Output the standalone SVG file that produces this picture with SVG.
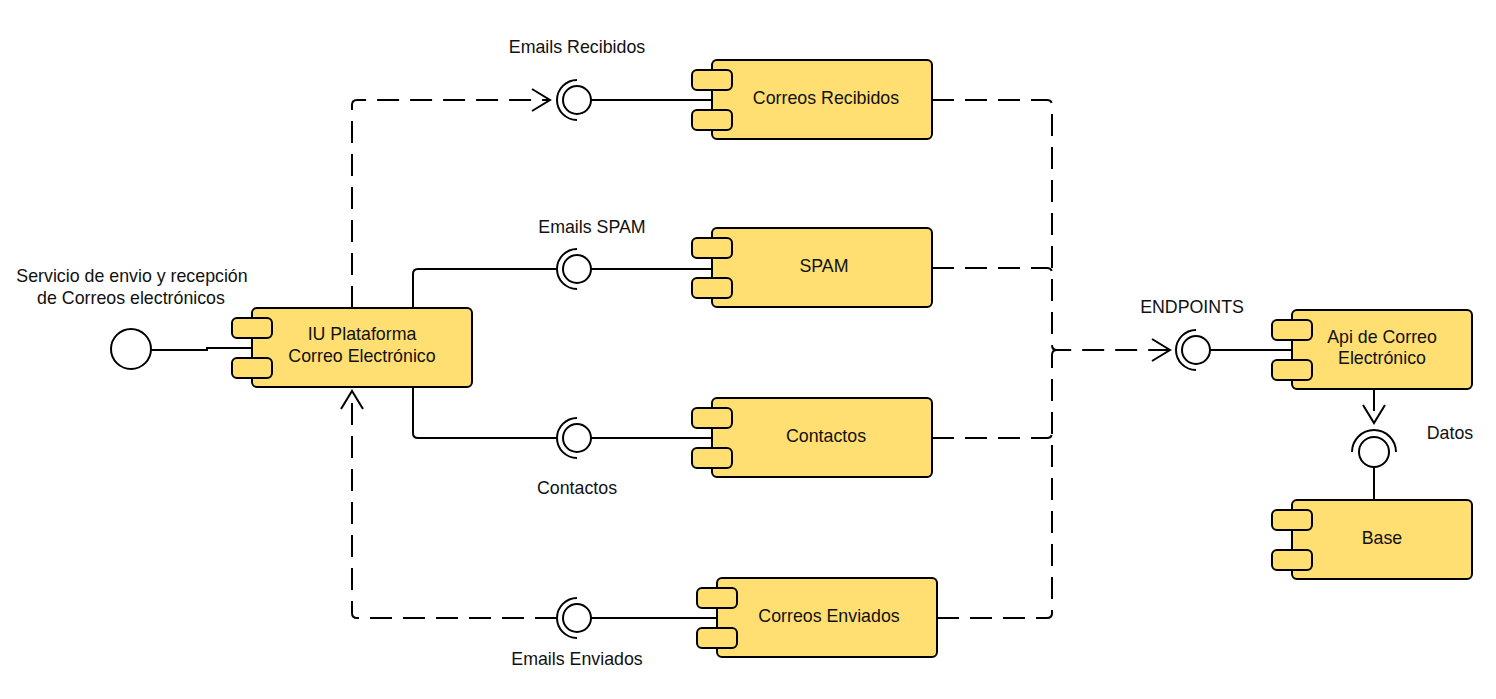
<svg xmlns="http://www.w3.org/2000/svg" width="1496" height="699" viewBox="0 0 1496 699">
<style>
  .body { fill: #ffdf71; stroke: #000; stroke-width: 2; }
  .port { fill: #ffdf71; stroke: #000; stroke-width: 2; }
  .t { font-family: "Liberation Sans", Arial, sans-serif; font-size: 17.8px; fill: #111; text-anchor: middle; }
  .solid { fill: none; stroke: #000; stroke-width: 2; }
  .dash { fill: none; stroke: #000; stroke-width: 2; stroke-dasharray: 22 11; }
  .ball { fill: #fff; stroke: #000; stroke-width: 2; }
  .sock { fill: none; stroke: #000; stroke-width: 2; }
</style>
<defs>
  <marker id="open" viewBox="-20 -12 22 24" markerWidth="22" markerHeight="24" refX="0" refY="0" markerUnits="userSpaceOnUse" orient="auto">
    <path d="M-18,-11 L0,0 L-18,11" fill="none" stroke="#000" stroke-width="2" stroke-dasharray="none"/>
  </marker>
</defs>
<rect width="1496" height="699" fill="#fff"/>

<g id="connectors">
  <path class="solid" d="M151,350 H207 V348 H252"/>
  <path class="dash" d="M352,308 V105 q0,-5 5,-5 H550" marker-end="url(#open)"/>
  <path class="solid" d="M591,100 H712"/>
  <path class="solid" d="M413,308 V274 q0,-5 5,-5 H557"/>
  <path class="solid" d="M590,269 H712"/>
  <path class="solid" d="M413,388 V433 q0,5 5,5 H557"/>
  <path class="solid" d="M590,438 H712"/>
  <path class="dash" d="M557,618 H357 q-5,0 -5,-5 V391" marker-end="url(#open)"/>
  <path class="solid" d="M590,618 H717"/>
  <path class="dash" d="M932,100 H1047 q5,0 5,5 V345 q0,5 5,5 H1170" marker-end="url(#open)"/>
  <path class="dash" d="M932,268 H1047 q5,0 5,5"/>
  <path class="dash" d="M932,438 H1047 q5,0 5,-5"/>
  <path class="dash" d="M937,618 H1047 q5,0 5,-5 V355 q0,-5 5,-5"/>
  <path class="solid" d="M1211,350 H1292"/>
  <path class="dash" d="M1374,389 V423" marker-end="url(#open)"/>
  <path class="solid" d="M1374,468 V500"/>
</g>

<g id="iface-servicio">
  <circle class="ball" cx="131" cy="349" r="20"/>
  <text class="t" x="132" y="282">Servicio de envio y recepción</text>
  <text class="t" x="131" y="304">de Correos electrónicos</text>
</g>

<g id="iface-recibidos">
  <path class="sock" d="M577,80 A20,20 0 0 0 577,120"/>
  <circle class="ball" cx="577" cy="100" r="14"/>
  <text class="t" x="577" y="53">Emails Recibidos</text>
</g>
<g id="iface-spam">
  <path class="sock" d="M577,249 A20,20 0 0 0 577,289"/>
  <circle class="ball" cx="577" cy="269" r="14"/>
  <text class="t" x="592" y="233">Emails SPAM</text>
</g>
<g id="iface-contactos">
  <path class="sock" d="M577,418 A20,20 0 0 0 577,458"/>
  <circle class="ball" cx="577" cy="438" r="14"/>
  <text class="t" x="577" y="494">Contactos</text>
</g>
<g id="iface-enviados">
  <path class="sock" d="M577,598 A20,20 0 0 0 577,638"/>
  <circle class="ball" cx="577" cy="618" r="14"/>
  <text class="t" x="577" y="665">Emails Enviados</text>
</g>
<g id="iface-endpoints">
  <path class="sock" d="M1196,330 A20,20 0 0 0 1196,370"/>
  <circle class="ball" cx="1196" cy="350" r="14"/>
  <text class="t" x="1192" y="313">ENDPOINTS</text>
</g>
<g id="iface-datos">
  <path class="sock" d="M1352,452 A22,22 0 0 1 1396,452"/>
  <circle class="ball" cx="1374" cy="452" r="15"/>
  <text class="t" x="1450" y="439">Datos</text>
</g>

<g id="comp-iu">
  <rect class="body" x="252" y="308" width="220" height="79" rx="5"/>
  <rect class="port" x="232" y="318" width="40" height="20" rx="5"/>
  <rect class="port" x="232" y="358" width="40" height="20" rx="5"/>
  <text class="t" x="362" y="340">IU Plataforma</text>
  <text class="t" x="362" y="362">Correo Electrónico</text>
</g>
<g id="comp-recibidos">
  <rect class="body" x="712" y="60" width="220" height="79" rx="5"/>
  <rect class="port" x="692" y="70" width="40" height="20" rx="5"/>
  <rect class="port" x="692" y="110" width="40" height="20" rx="5"/>
  <text class="t" x="826" y="104">Correos Recibidos</text>
</g>
<g id="comp-spam">
  <rect class="body" x="712" y="228" width="220" height="79" rx="5"/>
  <rect class="port" x="692" y="238" width="40" height="20" rx="5"/>
  <rect class="port" x="692" y="278" width="40" height="20" rx="5"/>
  <text class="t" x="824" y="272">SPAM</text>
</g>
<g id="comp-contactos">
  <rect class="body" x="712" y="398" width="220" height="79" rx="5"/>
  <rect class="port" x="692" y="408" width="40" height="20" rx="5"/>
  <rect class="port" x="692" y="448" width="40" height="20" rx="5"/>
  <text class="t" x="826" y="442">Contactos</text>
</g>
<g id="comp-enviados">
  <rect class="body" x="717" y="578" width="220" height="79" rx="5"/>
  <rect class="port" x="697" y="588" width="40" height="20" rx="5"/>
  <rect class="port" x="697" y="628" width="40" height="20" rx="5"/>
  <text class="t" x="829" y="622">Correos Enviados</text>
</g>
<g id="comp-api">
  <rect class="body" x="1292" y="310" width="180" height="79" rx="5"/>
  <rect class="port" x="1272" y="320" width="40" height="20" rx="5"/>
  <rect class="port" x="1272" y="360" width="40" height="20" rx="5"/>
  <text class="t" x="1382" y="343">Api de Correo</text>
  <text class="t" x="1382" y="364">Electrónico</text>
</g>
<g id="comp-base">
  <rect class="body" x="1292" y="500" width="180" height="79" rx="5"/>
  <rect class="port" x="1272" y="510" width="40" height="20" rx="5"/>
  <rect class="port" x="1272" y="550" width="40" height="20" rx="5"/>
  <text class="t" x="1382" y="544">Base</text>
</g>
</svg>
